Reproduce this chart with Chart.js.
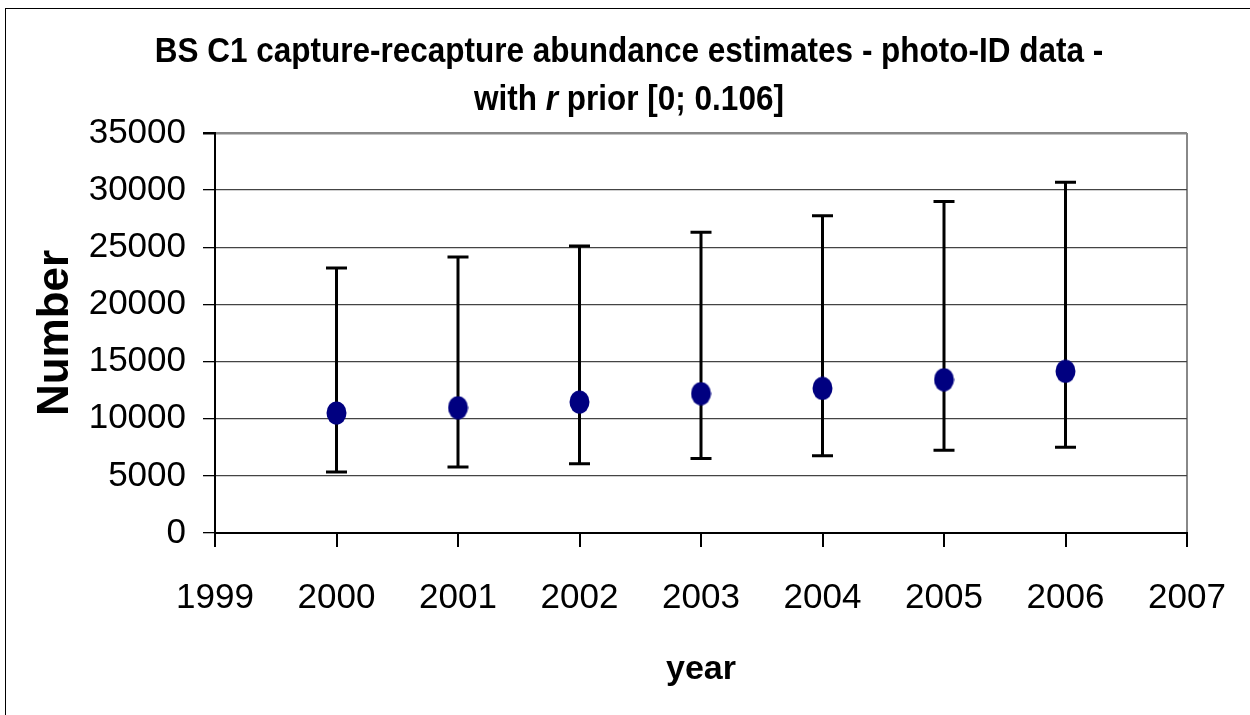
<!DOCTYPE html>
<html>
<head>
<meta charset="utf-8">
<script src="https://cdn.jsdelivr.net/npm/chart.js@4.4.1/dist/chart.umd.min.js"></script>
<style>
  html, body { margin: 0; padding: 0; background: #fff; }
  #wrap { position: relative; width: 1250px; height: 715px; overflow: hidden; }
  #frame { position: absolute; left: 5px; top: 8px; width: 1300px; height: 800px;
           border-left: 1.5px solid #000; border-top: 1.5px solid #000; }
  #title { position: absolute; left: 0; width: 1258px; top: 26px; text-align: center;
           font-family: "Liberation Sans", Arial, sans-serif;
           font-weight: bold; font-size: 31.5px; line-height: 43px; color: #000;
           transform: scaleY(1.12); transform-origin: top center; }
  canvas { position: absolute; left: 0; top: 0; }
</style>
</head>
<body>
<div id="wrap">
  <div id="frame"></div>
  <canvas id="chart" width="1250" height="715"></canvas>
  <div id="title">BS C1 capture-recapture abundance estimates - photo-ID data -<br>with <i>r</i> prior [0; 0.106]</div>
</div>
<script>
const years = [2000, 2001, 2002, 2003, 2004, 2005, 2006];
const estimates = [10500, 10970, 11460, 12200, 12660, 13420, 14150];
const lower = [5340, 5780, 6070, 6510, 6770, 7240, 7500];
const upper = [23190, 24150, 25110, 26310, 27770, 29000, 30690];
const xRange = [1999, 2007];
const yRange = [0, 35000];

const font = "'Liberation Sans', Arial, sans-serif";

// the markers are slightly taller than wide in the original
const dot = document.createElement("canvas");
dot.width = 21;
dot.height = 24;
const dctx = dot.getContext("2d");
dctx.fillStyle = "#000080";
dctx.beginPath();
dctx.ellipse(10.5, 12, 10, 11.5, 0, 0, Math.PI * 2);
dctx.fill();

const errorBars = {
  id: "errorBars",
  beforeDatasetsDraw(chart) {
    const { ctx, scales: { x, y } } = chart;
    ctx.save();
    ctx.strokeStyle = "#000";
    ctx.lineWidth = 3;
    years.forEach((yr, i) => {
      const px = x.getPixelForValue(yr);
      const top = y.getPixelForValue(upper[i]);
      const bot = y.getPixelForValue(lower[i]);
      ctx.beginPath();
      ctx.moveTo(px, top);
      ctx.lineTo(px, bot);
      ctx.moveTo(px - 10.5, top);
      ctx.lineTo(px + 10.5, top);
      ctx.moveTo(px - 10.5, bot);
      ctx.lineTo(px + 10.5, bot);
      ctx.stroke();
    });
    ctx.restore();
  },
};

new Chart(document.getElementById("chart"), {
  type: "scatter",
  data: {
    datasets: [
      {
        label: "Estimate",
        data: years.map((yr, i) => ({ x: yr, y: estimates[i] })),
        pointStyle: dot,
        pointRadius: 11,
        showLine: false,
      },
    ],
  },
  options: {
    responsive: false,
    animation: false,
    events: [],
    layout: { padding: { left: 0, top: 133, right: 63, bottom: 0 } },
    plugins: { legend: { display: false }, tooltip: { enabled: false } },
    scales: {
      x: {
        type: "linear",
        min: xRange[0],
        max: xRange[1],
        afterFit: (s) => {
          s.height = 182;
          s.paddingLeft = 0;
          s.paddingRight = 0;
        },
        ticks: {
          stepSize: 1,
          callback: (v) => String(v),
          color: "#000",
          padding: 30,
          font: { family: font, size: 35 },
        },
        grid: {
          color: (c) => (c.tick && c.tick.value === xRange[1] ? "#888" : "transparent"),
          lineWidth: 2,
          tickColor: "#000",
          tickLength: 14,
        },
        border: { color: "#000", width: 2 },
        title: {
          display: true,
          text: "year",
          color: "#000",
          font: { family: font, size: 34, weight: "bold", lineHeight: 1 },
          padding: { top: 0, bottom: 28 },
        },
      },
      y: {
        min: yRange[0],
        max: yRange[1],
        afterFit: (s) => {
          s.width = 215;
          s.paddingTop = 0;
          s.paddingBottom = 0;
        },
        ticks: {
          stepSize: 5000,
          callback: (v) => String(v),
          color: "#000",
          padding: 17,
          font: { family: font, size: 35 },
        },
        grid: {
          color: (c) => (c.tick && c.tick.value === yRange[1] ? "#888" : "#444"),
          lineWidth: (c) => (c.tick && c.tick.value === yRange[1] ? 2.5 : 1.3),
          tickColor: "#000",
          tickLength: 12,
        },
        border: { color: "#000", width: 2 },
        title: {
          display: true,
          text: "Number",
          color: "#000",
          font: { family: font, size: 44, weight: "bold", lineHeight: 1 },
          padding: { top: 34, bottom: 0 },
        },
      },
    },
  },
  plugins: [errorBars],
});
</script>
</body>
</html>
